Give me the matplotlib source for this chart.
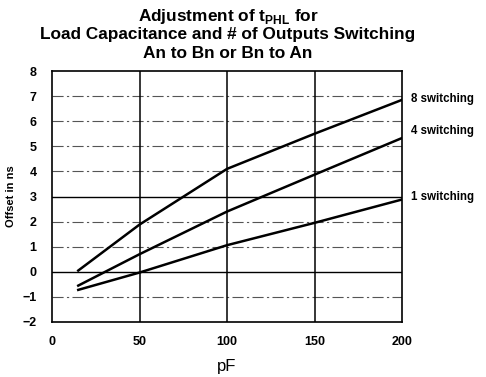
import numpy as np
import matplotlib
matplotlib.use("Agg")
import matplotlib.pyplot as plt

plt.rcParams['font.family'] = ['Liberation Sans', 'DejaVu Sans']
plt.rcParams['mathtext.fontset'] = 'custom'
plt.rcParams['mathtext.rm'] = 'Liberation Sans:bold'
plt.rcParams['mathtext.bf'] = 'Liberation Sans:bold'

pf = [15, 50, 100, 150, 200]
sw8 = [0.05, 1.88, 4.1, 5.5, 6.85]
sw4 = [-0.55, 0.7, 2.4, 3.87, 5.33]
sw1 = [-0.72, -0.03, 1.06, 1.95, 2.88]
labels = ["8 switching", "4 switching", "1 switching"]
label_y = [6.9, 5.6, 3.0]
yticks = list(range(-2, 9))
xticks = [0, 50, 100, 150, 200]

fig = plt.figure(figsize=(4.86, 3.77), dpi=100)
ax = fig.add_axes([52/486, 1-322/377, 350/486, 251/377])

# horizontal grid: dash-dot grey, except 0 and 3 solid
for y in yticks:
    if y in (0, 3):
        ax.axhline(y, color='black', lw=1.0, zorder=1)
    elif y not in (-2, 8):
        ax.axhline(y, color='#555555', lw=0.8, ls=(0, (10, 3, 2, 3)), zorder=1)
for x in [50, 100, 150]:
    ax.axvline(x, color='black', lw=1.1, zorder=1)

for s in [sw8, sw4, sw1]:
    ax.plot(pf, s, color='black', lw=1.8, zorder=3)

for lab, y in zip(labels, label_y):
    ax.text(205, y, lab, fontsize=8.3, fontweight='bold', va='center', ha='left',
            clip_on=False)

ax.set_xlim(0, 200)
ax.set_ylim(-2, 8)
ax.set_xticks(xticks)
ax.set_yticks(yticks)
ax.set_yticklabels([str(t).replace('-', '\u2212') for t in yticks])
ax.tick_params(length=0, labelsize=9, pad=10)
for lab in ax.get_xticklabels() + ax.get_yticklabels():
    lab.set_fontweight('bold')
ax.tick_params(axis='y', pad=11)
for sp in ax.spines.values():
    sp.set_linewidth(1.2)

ax.set_xlabel("pF", fontsize=12, labelpad=8)
ax.set_ylabel("Offset in ns", fontsize=8, fontweight='bold', labelpad=5)

tx = 228/486
fig.text(tx, 1-16/377, r"Adjustment of t$_{\mathrm{PHL}}$ for", ha='center', va='center',
         fontsize=12.4, fontweight='bold')
fig.text(tx, 1-35/377, "Load Capacitance and # of Outputs Switching", ha='center',
         va='center', fontsize=12.4, fontweight='bold')
fig.text(tx, 1-54/377, "An to Bn or Bn to An", ha='center', va='center',
         fontsize=12.4, fontweight='bold')

fig.savefig("out.png", dpi=100)
